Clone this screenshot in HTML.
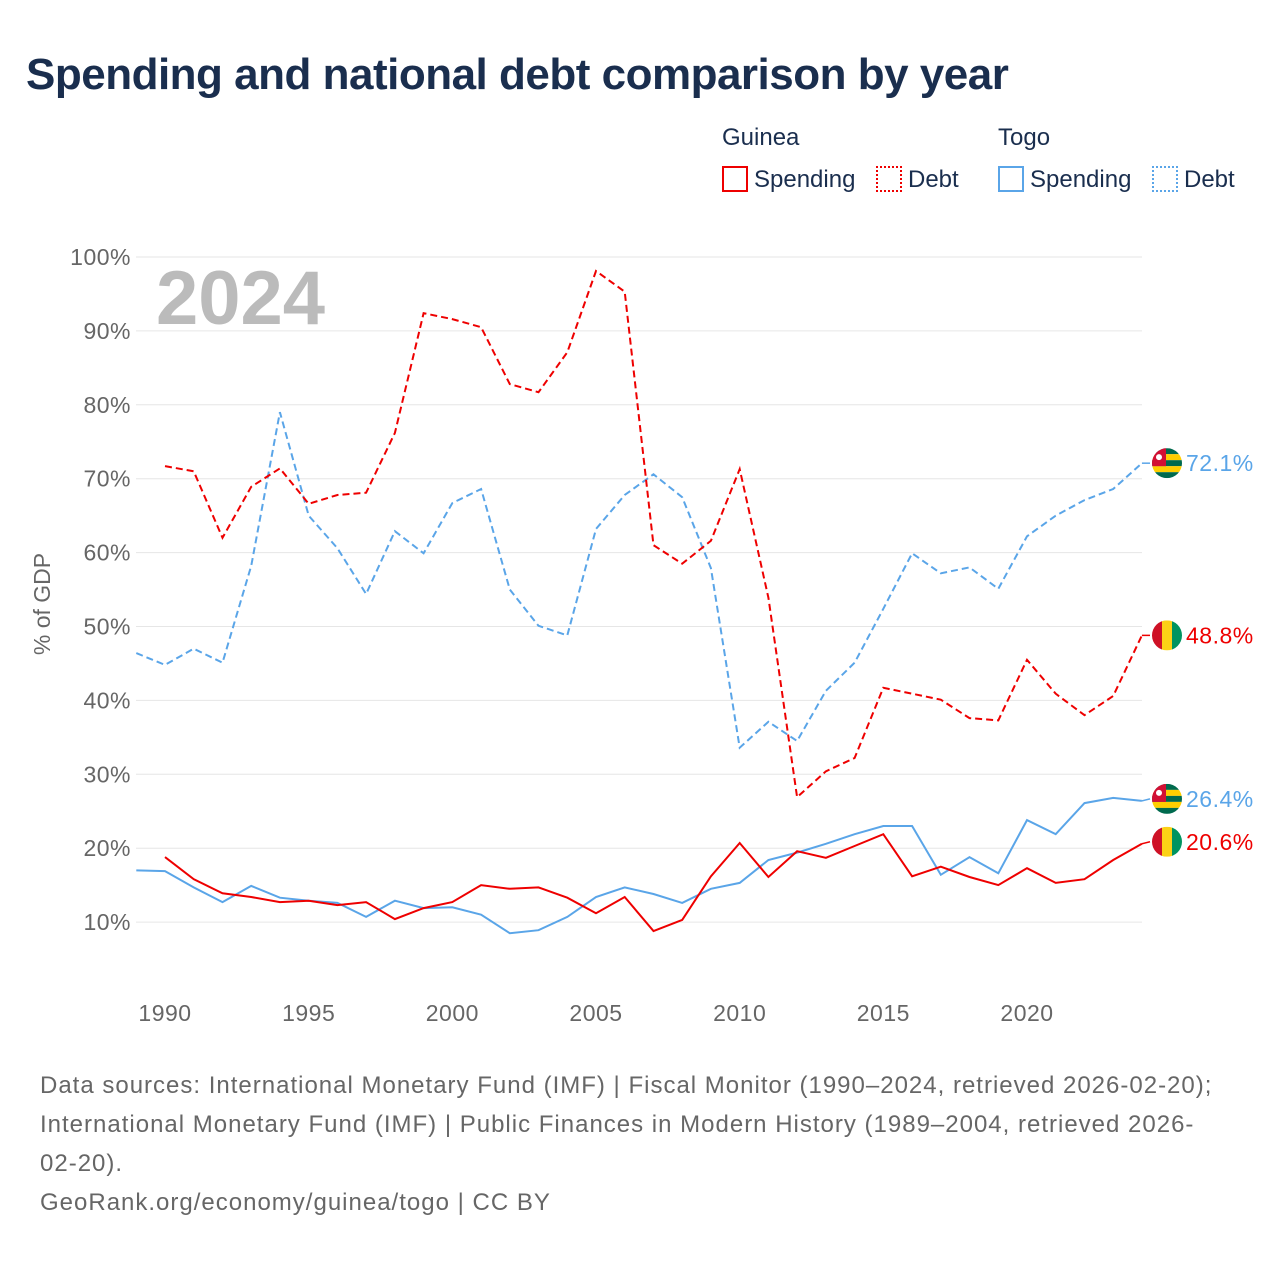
<!DOCTYPE html>
<html><head><meta charset="utf-8">
<style>
body{margin:0;background:#fff;font-family:"Liberation Sans",sans-serif;}
#wrap{position:relative;width:1280px;height:1280px;overflow:hidden;background:#fff;}
.t{position:absolute;white-space:nowrap;}
</style></head><body>
<div id="wrap">
<div class="t" style="left:26px;top:50px;font-size:44px;font-weight:bold;color:#1a2e4e;letter-spacing:-0.5px;">Spending and national debt comparison by year</div>
<div class="t" style="left:722px;top:124px;font-size:24px;color:#1a2e4e;">Guinea</div>
<div class="t" style="left:998px;top:124px;font-size:24px;color:#1a2e4e;">Togo</div>
<div class="t" style="left:722px;top:166px;font-size:24px;color:#1a2e4e;"><span style="display:inline-block;width:22px;height:22px;border:2px solid #e00;vertical-align:-5px;margin-right:6px;"></span>Spending</div>
<div class="t" style="left:876px;top:166px;font-size:24px;color:#1a2e4e;"><span style="display:inline-block;width:22px;height:22px;border:2px dotted #e00;vertical-align:-5px;margin-right:6px;"></span>Debt</div>
<div class="t" style="left:998px;top:166px;font-size:24px;color:#1a2e4e;"><span style="display:inline-block;width:22px;height:22px;border:2px solid #5aa5e8;vertical-align:-5px;margin-right:6px;"></span>Spending</div>
<div class="t" style="left:1152px;top:166px;font-size:24px;color:#1a2e4e;"><span style="display:inline-block;width:22px;height:22px;border:2px dotted #5aa5e8;vertical-align:-5px;margin-right:6px;"></span>Debt</div>
<svg id="chart" width="1280" height="1280" style="position:absolute;left:0;top:0;"></svg>
<div class="t" style="left:40px;top:1066px;font-size:24px;line-height:39px;color:#666;width:1190px;white-space:normal;letter-spacing:1px;">Data sources: International Monetary Fund (IMF) | Fiscal Monitor (1990–2024, retrieved 2026-02-20); International Monetary Fund (IMF) | Public Finances in Modern History (1989–2004, retrieved 2026-02-20).<br>GeoRank.org/economy/guinea/togo | CC BY</div>
</div>
<script>
const guineaYears=[1990,1991,1992,1993,1994,1995,1996,1997,1998,1999,2000,2001,2002,2003,2004,2005,2006,2007,2008,2009,2010,2011,2012,2013,2014,2015,2016,2017,2018,2019,2020,2021,2022,2023,2024];
const togoYears=[1989,1990,1991,1992,1993,1994,1995,1996,1997,1998,1999,2000,2001,2002,2003,2004,2005,2006,2007,2008,2009,2010,2011,2012,2013,2014,2015,2016,2017,2018,2019,2020,2021,2022,2023,2024];
const guineaDebt=[71.7,71.0,62,68.9,71.4,66.6,67.8,68.1,76.2,92.4,91.6,90.5,82.8,81.7,87.1,98.1,95.3,61,58.5,61.6,71.3,53.9,26.9,30.4,32.2,41.7,40.9,40.1,37.6,37.3,45.5,40.9,38,40.6,48.8];
const guineaSpending=[18.8,15.8,13.9,13.4,12.7,12.9,12.3,12.7,10.4,11.9,12.7,15,14.5,14.7,13.3,11.2,13.4,8.8,10.3,16.2,20.7,16.1,19.6,18.7,20.3,21.9,16.2,17.5,16.1,15,17.3,15.3,15.8,18.4,20.6];
const togoDebt=[46.4,44.8,47,45.1,58.2,79,65,60.6,54.4,62.9,59.9,66.7,68.6,55,50.1,48.8,63.2,67.8,70.6,67.5,57.9,33.6,37.1,34.5,41.3,45.1,52.4,59.9,57.2,58,55.1,62.2,65,67.1,68.6,72.1];
const togoSpending=[17,16.9,14.7,12.7,14.9,13.3,12.9,12.6,10.7,12.9,11.9,12,11,8.5,8.9,10.7,13.4,14.7,13.8,12.6,14.5,15.3,18.4,19.4,20.6,21.9,23,23,16.4,18.8,16.6,23.8,21.9,26.1,26.8,26.4];
const yTicks=[10,20,30,40,50,60,70,80,90,100];
const xTicks=[1990,1995,2000,2005,2010,2015,2020];

const NS="http://www.w3.org/2000/svg";
const svg=document.getElementById('chart');
const x=y=>165+(y-1990)*(1027-165)/30;
const yv=v=>996-v*7.39;
function el(tag,attrs,parent){const e=document.createElementNS(NS,tag);for(const k in attrs)e.setAttribute(k,attrs[k]);(parent||svg).appendChild(e);return e;}

yTicks.forEach(t=>{
  const g=el('line',{x1:136,x2:1142,y1:yv(t),y2:yv(t),stroke:'#e6e6e6','stroke-width':1});
  
  
  const tx=el('text',{x:131,y:yv(t)+8,'text-anchor':'end','font-size':23,fill:'#666','letter-spacing':'0.5','font-family':'Liberation Sans, sans-serif'});
  tx.textContent=t+'%';
  
  
});
xTicks.forEach(t=>{
  const tx=el('text',{x:x(t),y:1021,'text-anchor':'middle','font-size':23,fill:'#666','letter-spacing':'0.5','font-family':'Liberation Sans, sans-serif'});
  tx.textContent=t;
  
  
});
const yt=el('text',{x:0,y:0,transform:'translate(50,604) rotate(-90)','text-anchor':'middle','font-size':23,fill:'#666','font-family':'Liberation Sans, sans-serif'});
yt.textContent='% of GDP';


const yr=el('text',{x:156,y:324,'font-size':76,'font-weight':'bold',fill:'#bbb','font-family':'Liberation Sans, sans-serif'});
yr.textContent='2024';



function series(years,vals,color,dash,name){
  const d=years.map((yy,i)=>(i?'L':'M')+x(yy).toFixed(1)+' '+yv(vals[i]).toFixed(1)).join(' ');
  const p=el('path',{d:d,fill:'none',stroke:color,'stroke-width':2,'stroke-dasharray':dash||'none'});
  
  
}
series(togoYears,togoDebt,'#5aa5e8','7,4','togo-debt-line');
series(guineaYears,guineaDebt,'#e00','7,4','guinea-debt-line');
series(togoYears,togoSpending,'#5aa5e8',null,'togo-spending-line');
series(guineaYears,guineaSpending,'#e00',null,'guinea-spending-line');

let clipId=0;
function flag(cx,cy,type){
  const id='c'+(clipId++);
  const defs=el('defs',{});
  const cp=el('clipPath',{id:id},defs);
  el('circle',{cx:cx,cy:cy,r:15},cp);
  const g=el('g',{'clip-path':'url(#'+id+')'});
  
  
  if(type==='guinea'){
    el('rect',{x:cx-15,y:cy-15,width:10,height:30,fill:'#ce1126'},g);
    el('rect',{x:cx-5,y:cy-15,width:10,height:30,fill:'#fcd116'},g);
    el('rect',{x:cx+5,y:cy-15,width:10,height:30,fill:'#009460'},g);
  }else{
    for(let i=0;i<5;i++)el('rect',{x:cx-15,y:cy-15+i*6,width:30,height:6,fill:i%2?'#ffce00':'#006a4e'},g);
    el('rect',{x:cx-15,y:cy-15,width:14,height:18,fill:'#d21034'},g);
    el('circle',{cx:cx-8,cy:cy-6,r:3,fill:'#fff'},g);
  }
}
function endLabel(years,vals,color,type,ly){
  const lx=x(years[years.length-1]), vy=yv(vals[vals.length-1]);
  el('line',{x1:lx,y1:vy,x2:1150,y2:ly,stroke:color,'stroke-width':1.5});
  flag(1167,ly,type);
  const t=el('text',{x:1186,y:ly+8,'font-size':23,fill:color,'letter-spacing':'0.5','font-family':'Liberation Sans, sans-serif'});
  t.textContent=vals[vals.length-1].toFixed(1)+'%';
  
  
}
endLabel(togoYears,togoDebt,'#5aa5e8','togo',yv(togoDebt[togoDebt.length-1]));
endLabel(guineaYears,guineaDebt,'#e00','guinea',yv(guineaDebt[guineaDebt.length-1]));
endLabel(togoYears,togoSpending,'#5aa5e8','togo',yv(togoSpending[togoSpending.length-1])-2);
endLabel(guineaYears,guineaSpending,'#e00','guinea',yv(guineaSpending[guineaSpending.length-1])-2);
</script>
</body></html>
